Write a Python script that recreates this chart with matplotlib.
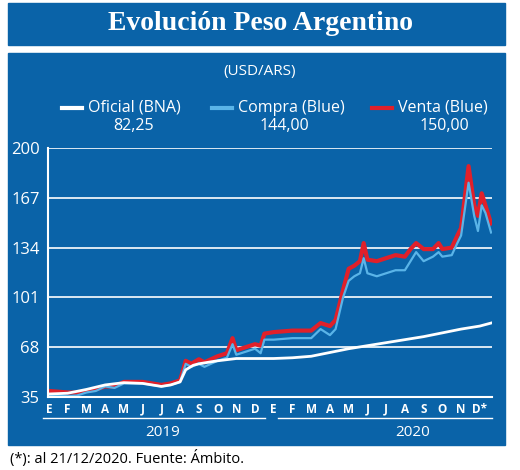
import matplotlib
matplotlib.use('Agg')
import matplotlib.pyplot as plt
from matplotlib.patches import Rectangle

# data (x in months from Jan 2019)
x_of = [0, 1, 2, 3, 4, 5, 6, 6.5, 7, 7.3, 7.7, 8, 9, 10, 11, 12, 13, 14, 15, 16, 17, 18, 19, 20, 21, 22, 23, 23.6]
oficial = [37, 37.5, 40, 43, 44.5, 44, 42, 43, 45, 53, 56, 57, 59, 60.5, 60.5, 60.5, 61, 62, 64.5, 67, 69, 71, 73, 75, 77.5, 80, 82, 84]

x_bl = [0, 0.5, 1, 1.5, 2, 2.5, 3, 3.5, 4, 5, 6, 6.5, 7, 7.3, 7.6, 8, 8.3, 9, 9.5, 9.8, 10, 10.5, 11, 11.3, 11.5,
        12, 13, 14, 14.5, 15, 15.3, 15.7, 16, 16.3, 16.6, 16.8, 17, 17.5, 18, 18.5, 19, 19.3, 19.6, 20, 20.5, 20.8,
        21, 21.5, 21.8, 22, 22.4, 22.7, 22.9, 23.1, 23.3, 23.6]
compra = [36, 36, 35.5, 36, 38, 39, 42, 41, 44, 44, 42, 43, 45, 57, 55, 57, 55, 59, 61, 70, 63, 65, 67, 64, 73,
          73, 74, 74, 80, 76, 80, 101, 112, 115, 117, 127, 117, 115, 117, 119, 119, 125, 131, 125, 128, 131,
          128, 129, 137, 142, 177, 155, 145, 162, 157, 144]
venta = [39, 38.5, 38, 38, 39, 40, 42, 42, 45, 45, 43, 44, 46, 59, 57, 60, 58, 62, 64, 74, 66, 68, 70, 69, 77,
         78, 79, 79, 84, 82, 86, 106, 120, 122, 125, 137, 126, 125, 127, 129, 128, 133, 137, 133, 133, 137,
         133, 134, 142, 147, 188, 162, 155, 170, 162, 150]

months = ['E', 'F', 'M', 'A', 'M', 'J', 'J', 'A', 'S', 'O', 'N', 'D'] * 2
months[-1] = 'D*'
yticks = [35, 68, 101, 134, 167, 200]

blue = '#0a63a8'
fig = plt.figure(figsize=(5.2, 4.7), dpi=100)
fig.patch.set_facecolor('white')
plt.rcParams['font.family'] = ['Open Sans', 'DejaVu Sans']

# background boxes
fig.add_artist(Rectangle((8/520, 1-45/470), 497/520, 42/470, transform=fig.transFigure, color=blue, zorder=-5))
fig.add_artist(Rectangle((8/520, 1-445/470), 497/520, 392/470, transform=fig.transFigure, color=blue, zorder=-5))
fig.text(0.5, 1-24/470, 'Evolución Peso Argentino', color='white', fontsize=20, fontweight='bold',
         family='Liberation Serif', ha='center', va='center')
fig.text(0.5, 1-72/470, '(USD/ARS)', color='white', fontsize=11, ha='center', va='center')

# legend
for lx, name, val, c in [(62, 'Oficial (BNA)', '82,25', 'white'), (212, 'Compra (Blue)', '144,00', '#5ab4e8'),
                         (372, 'Venta (Blue)', '150,00', '#e0202a')]:
    fig.add_artist(plt.Line2D([lx/520, (lx+20)/520], [1-108/470]*2, color=c, lw=3, transform=fig.transFigure))
    fig.text((lx+26)/520, 1-108/470, name, color='white', fontsize=11.5, va='center')
    fig.text((lx+72)/520, 1-126/470, val, color='white', fontsize=11.5, va='center', ha='center')

ax = fig.add_axes([48/520, 1-397/470, 444/520, 249/470])
ax.set_facecolor(blue)
ax.plot(x_bl, venta, color='#e0202a', lw=3)
ax.plot(x_bl, compra, color='#5ab4e8', lw=1.6)
ax.plot(x_of, oficial, color='white', lw=2)
ax.set_xlim(-0.05, 23.65)
ax.set_ylim(35, 200)
ax.set_yticks(yticks)
ax.set_yticklabels([str(v) for v in yticks], color='white', fontsize=12)
ax.grid(axis='y', color='white', lw=1.2)
ax.set_axisbelow(True)
ax.set_xticks(range(24))
ax.set_xticklabels(months, color='white', fontsize=8.5, fontweight='bold')
ax.tick_params(length=0, pad=4)
ax.tick_params(axis='y', pad=6)
for s in ['top', 'right']:
    ax.spines[s].set_visible(False)
ax.spines['left'].set_color('white')
ax.spines['bottom'].set_color('white')
ax.spines['left'].set_linewidth(1.5)
ax.spines['bottom'].set_linewidth(1.5)

# year underlines and labels
fig.add_artist(plt.Line2D([43/520, 265/520], [1-418/470]*2, color='white', lw=1, transform=fig.transFigure))
fig.add_artist(plt.Line2D([278/520, 492/520], [1-418/470]*2, color='white', lw=1, transform=fig.transFigure))
fig.text(163/520, 1-432/470, '2019', color='white', fontsize=11, ha='center', va='center')
fig.text(413/520, 1-433/470, '2020', color='white', fontsize=11, ha='center', va='center')
fig.text(10/520, 1-458/470, '(*): al 21/12/2020. Fuente: Ámbito.', color='black', fontsize=10.5, va='center')

fig.savefig('out.png', dpi=100)
